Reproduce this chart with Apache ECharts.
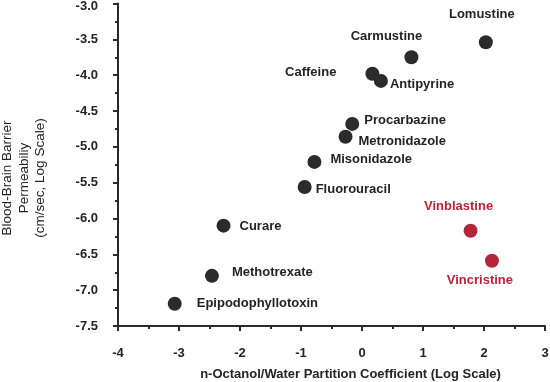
<!DOCTYPE html>
<html>
<head>
<meta charset="utf-8">
<script src="https://cdn.jsdelivr.net/npm/echarts@6/dist/echarts.min.js"></script>
<style>
html,body{margin:0;padding:0;background:#fff;}
#chart{width:550px;height:382px;}
</style>
</head>
<body>
<div id="chart"></div>
<script>
// ---- data ----
var drugNames = ['Lomustine','Carmustine','Caffeine','Antipyrine','Procarbazine','Metronidazole','Misonidazole','Fluorouracil','Curare','Methotrexate','Epipodophyllotoxin','Vinblastine','Vincristine'];
var logP      = [2.03, 0.81, 0.17, 0.31, -0.16, -0.27, -0.78, -0.94, -2.27, -2.46, -3.07, 1.78, 2.13];
var logPerm   = [-3.54, -3.75, -3.98, -4.08, -4.68, -4.86, -5.21, -5.56, -6.10, -6.80, -7.19, -6.17, -6.59];
var highlighted = ['Vinblastine','Vincristine'];
var xTicks = [-4, -3, -2, -1, 0, 1, 2, 3];
var yTicks = [-3.0, -3.5, -4.0, -4.5, -5.0, -5.5, -6.0, -6.5, -7.0, -7.5];

// ---- label layout (style only) ----
var labelLayout = {
  'Lomustine':        {position:'top', distance:14, offset:[-4,0]},
  'Carmustine':       {position:'top', distance:7, offset:[-25,0]},
  'Caffeine':         {position:'left', distance:29, offset:[0,-1]},
  'Antipyrine':       {position:'right', distance:2, offset:[0,4]},
  'Procarbazine':     {position:'right', distance:5, offset:[0,-3]},
  'Metronidazole':    {position:'right', distance:6, offset:[0,5]},
  'Misonidazole':     {position:'right', distance:9, offset:[0,-2]},
  'Fluorouracil':     {position:'right', distance:4, offset:[0,2]},
  'Curare':           {position:'right', distance:9, offset:[0,1]},
  'Methotrexate':     {position:'right', distance:13, offset:[0,-3]},
  'Epipodophyllotoxin':{position:'right', distance:15, offset:[0,0]},
  'Vinblastine':      {position:'top', distance:11, offset:[-12,0]},
  'Vincristine':      {position:'bottom', distance:6, offset:[-12,0]}
};

var DARK = '#2b2b2b';
var RED = '#b3263a';
var TEXT = '#242424';
var FONT = 'Liberation Sans, Arial, sans-serif';

var seriesData = drugNames.map(function(n, i){
  var isRed = highlighted.indexOf(n) >= 0;
  var lay = labelLayout[n];
  return {
    name: n,
    value: [logP[i], logPerm[i]],
    itemStyle: {color: isRed ? RED : DARK, opacity: 1},
    label: {
      show: true,
      formatter: n,
      position: lay.position,
      distance: lay.distance,
      offset: lay.offset,
      color: isRed ? RED : TEXT,
      fontFamily: FONT,
      fontWeight: 'bold',
      fontSize: 13
    }
  };
});

var chart = echarts.init(document.getElementById('chart'), null, {renderer:'canvas'});
chart.setOption({
  backgroundColor: '#ffffff',
  animation: false,
  grid: {left: 118, right: 5, top: 3.5, bottom: 56, containLabel: false, outerBoundsMode: 'none'},
  xAxis: {
    type: 'value',
    min: xTicks[0], max: xTicks[xTicks.length-1], interval: 1,
    name: 'n-Octanol/Water Partition Coefficient (Log Scale)',
    nameLocation: 'middle', nameGap: 42,
    nameTextStyle: {fontFamily: FONT, fontWeight: 'bold', fontSize: 13, color: TEXT, padding: [0,0,0,38]},
    axisLine: {show: true, onZero: false, lineStyle: {color: '#2b2b2b', width: 2}},
    axisTick: {show: true, length: 5, lineStyle: {color: '#2b2b2b', width: 2}},
    minorTick: {show: true, splitNumber: 2, length: 3, lineStyle: {color: '#2b2b2b', width: 2}},
    splitLine: {show: false},
    axisLabel: {margin: 21, fontFamily: FONT, fontWeight: 'bold', fontSize: 13, color: TEXT,
      formatter: function(v){ return String(v); }}
  },
  yAxis: {
    type: 'value',
    min: yTicks[yTicks.length-1], max: yTicks[0], interval: 0.5,
    axisLine: {show: true, onZero: false, lineStyle: {color: '#2b2b2b', width: 2}},
    axisTick: {show: true, length: 5, lineStyle: {color: '#2b2b2b', width: 2}},
    minorTick: {show: true, splitNumber: 2, length: 3, lineStyle: {color: '#2b2b2b', width: 2}},
    splitLine: {show: false},
    axisLabel: {margin: 20, fontFamily: FONT, fontWeight: 'bold', fontSize: 13, color: TEXT,
      formatter: function(v){ return v === yTicks[0] ? '{t|' + v.toFixed(1) + '}' : v.toFixed(1); },
      rich: {t: {padding: [6,0,0,0], fontFamily: FONT, fontWeight: 'bold', fontSize: 13, color: TEXT}}
    }
  },
  graphic: [{
    type: 'text',
    x: 24, y: 178,
    rotation: Math.PI / 2,
    style: {
      text: 'Blood-Brain Barrier\nPermeabiliy\n(cm/sec, Log Scale)',
      textAlign: 'center',
      textVerticalAlign: 'middle',
      font: 'normal 13.5px ' + FONT,
      lineHeight: 16.5,
      fill: TEXT
    }
  }],
  series: [{
    type: 'scatter',
    symbol: 'circle',
    symbolSize: 14,
    itemStyle: {opacity: 1},
    emphasis: {disabled: true},
    data: seriesData
  }]
});
</script>
</body>
</html>
